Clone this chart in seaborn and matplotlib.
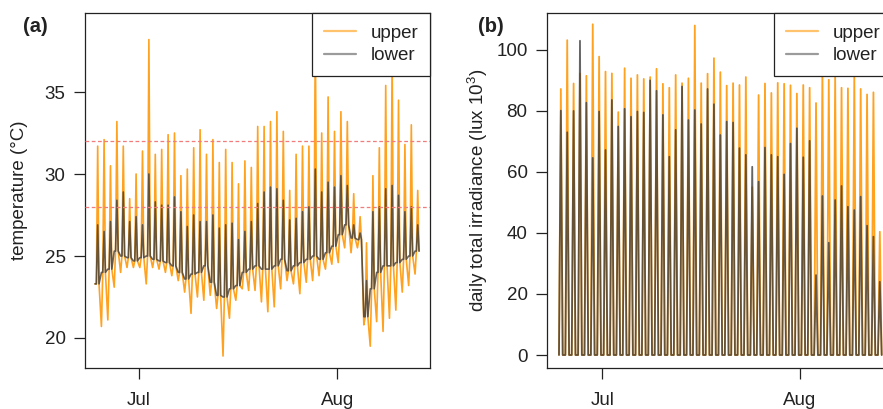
import numpy as np
import pandas as pd
import matplotlib
matplotlib.use("Agg")
import matplotlib.pyplot as plt
from matplotlib.lines import Line2D
import seaborn as sns

# ---- daily readings, 24 Jun - 13 Aug ------------------------------------
days = pd.date_range("2014-06-24", periods=51, freq="D")

# temperature (deg C): night baseline, upper-canopy night dip, daily maxima
night_base = [23.3, 24.0, 24.2, 25.3, 25.0, 24.9, 24.7, 24.9, 25.0, 24.8,
              24.7, 24.6, 24.4, 24.0, 23.6, 23.9, 24.0, 24.4, 23.4, 22.6,
              22.5, 23.0, 23.2, 24.0, 24.2, 24.4, 24.2, 24.2, 24.4, 24.8,
              24.1, 24.4, 24.6, 24.8, 25.0, 24.8, 25.2, 25.6, 26.3, 26.9,
              26.1, 26.0, 21.3, 23.0, 24.0, 24.4, 24.4, 24.6, 24.8, 25.0,
              25.3]
upper_dip = [23.3, 20.7, 21.1, 23.1, 24.0, 24.3, 24.3, 24.3, 23.3, 24.3,
             24.2, 24.0, 23.8, 23.5, 22.8, 21.5, 22.5, 22.3, 22.6, 21.8,
             18.9, 21.2, 22.3, 23.0, 22.9, 22.9, 22.2, 21.6, 21.9, 23.0,
             23.5, 23.3, 22.7, 23.4, 23.5, 23.8, 24.2, 24.5, 24.6, 25.5,
             25.2, 25.5, 20.8, 19.5, 21.0, 20.4, 21.2, 21.7, 22.8, 23.2,
             23.9]
upper_temp_max = [31.7, 32.1, 30.5, 33.2, 31.7, 28.5, 30.0, 31.4, 38.2, 31.2,
                  31.5, 32.4, 32.5, 29.9, 30.3, 31.6, 32.7, 31.2, 32.1, 30.7,
                  31.5, 30.7, 29.4, 30.8, 30.4, 32.9, 32.9, 33.2, 33.8, 32.6,
                  29.0, 31.2, 31.7, 31.7, 38.6, 32.5, 34.7, 32.6, 33.8, 33.2,
                  28.8, 27.4, 25.8, 29.9, 31.6, 35.4, 37.0, 34.5, 31.8, 33.0,
                  29.0]
lower_temp_max = [26.9, 26.5, 27.1, 28.4, 28.9, 27.1, 27.4, 26.9, 30.0, 28.3,
                  28.1, 28.1, 28.6, 27.7, 26.8, 27.5, 27.1, 27.1, 27.5, 26.7,
                  26.9, 27.0, 26.0, 26.5, 27.1, 28.2, 28.9, 29.2, 29.1, 28.4,
                  27.2, 27.3, 27.7, 28.0, 30.3, 28.9, 29.5, 29.2, 29.9, 29.3,
                  26.9, 26.4, 23.5, 27.7, 28.0, 29.1, 29.3, 28.7, 27.7, 28.0,
                  26.9]

# irradiance (lux 10^3): daily midday maxima, zero at night
upper_irr_max = [87.2, 103.2, 89.0, 92.3, 91.5, 108.4, 97.8, 92.9, 92.3, 79.6,
                 94.0, 90.7, 91.8, 90.5, 91.1, 93.8, 88.9, 87.6, 91.8, 89.1,
                 90.7, 108.0, 89.1, 92.2, 97.3, 92.7, 88.3, 89.1, 88.5, 91.1,
                 55.0, 85.2, 89.0, 85.9, 89.2, 88.9, 88.4, 85.7, 88.5, 87.6,
                 82.6, 93.4, 90.2, 91.3, 87.6, 87.4, 91.0, 87.2, 85.4, 86.1,
                 40.4]
lower_irr_max = [80.1, 73.0, 80.0, 103.0, 82.7, 64.6, 79.8, 67.2, 83.6, 74.9,
                 80.7, 78.1, 79.8, 79.5, 90.0, 86.6, 78.7, 65.0, 73.8, 88.0,
                 77.0, 80.3, 75.7, 87.2, 82.2, 72.1, 76.5, 76.2, 67.8, 65.6,
                 61.7, 56.8, 68.0, 65.6, 65.0, 59.2, 69.3, 74.3, 64.8, 70.2,
                 26.2, 52.1, 36.8, 50.8, 55.4, 48.6, 47.5, 51.9, 42.4, 38.8,
                 24.0]

series_names = ["upper", "lower"]
colors = {"upper": "#FF9500", "lower": "#3A3A3A"}
alphas = {"upper": 0.88, "lower": 0.78}

# ---- long tables --------------------------------------------------------
temp_hours = [3, 8, 13, 18]
irr_hours = [5, 12, 19]
temp_rows, irr_rows = [], []
for i, d in enumerate(days):
    up_vals = [upper_dip[i], night_base[i], upper_temp_max[i], night_base[i]]
    lo_vals = [night_base[i], night_base[i], lower_temp_max[i], night_base[i]]
    for h, vu, vl in zip(temp_hours, up_vals, lo_vals):
        t = d + pd.Timedelta(hours=h)
        temp_rows.append((t, "upper", vu))
        temp_rows.append((t, "lower", vl))
    for h, vu, vl in zip(irr_hours, [0, upper_irr_max[i], 0],
                         [0, lower_irr_max[i], 0]):
        t = d + pd.Timedelta(hours=h)
        irr_rows.append((t, "upper", vu))
        irr_rows.append((t, "lower", vl))
temp_df = pd.DataFrame(temp_rows, columns=["time", "sensor", "value"])
irr_df = pd.DataFrame(irr_rows, columns=["time", "sensor", "value"])

# ---- style --------------------------------------------------------------
sns.set_style("ticks")
plt.rcParams["font.family"] = ["Liberation Sans", "DejaVu Sans"]
plt.rcParams["mathtext.fontset"] = "custom"
plt.rcParams["mathtext.rm"] = "Liberation Sans"
plt.rcParams["mathtext.it"] = "Liberation Sans:italic"
FS = 13.5
INK = "#222222"

W, H = 883, 409
fig = plt.figure(figsize=(W / 100, H / 100), dpi=100)
ax_a = fig.add_axes([85 / W, 41 / H, 345 / W, 355 / H])
ax_b = fig.add_axes([547 / W, 41 / H, 345 / W, 355 / H])

jul1 = pd.Timestamp("2014-07-01")
aug1 = pd.Timestamp("2014-08-01")


def draw(ax, df, lw):
    for name in series_names:
        sub = df[df["sensor"] == name]
        sns.lineplot(data=sub, x="time", y="value", ax=ax, estimator=None,
                     color=colors[name], alpha=alphas[name], lw=lw,
                     sort=True, legend=False)


def finish(ax, ylim, yticks, ylabel, left_days, span_days):
    start = jul1 - pd.Timedelta(days=left_days)
    ax.set_xlim(start, start + pd.Timedelta(days=span_days))
    ax.set_ylim(*ylim)
    ax.set_xticks([jul1, aug1])
    ax.set_xticklabels(["Jul", "Aug"])
    ax.set_yticks(yticks)
    ax.set_yticklabels([str(v) for v in yticks])
    ax.tick_params(axis="both", direction="out", length=8, width=0.9,
                   colors=INK, labelsize=FS, labelcolor=INK)
    ax.tick_params(axis="y", pad=6)
    ax.tick_params(axis="x", pad=9.5)
    for s in ax.spines.values():
        s.set_visible(True)
        s.set_color(INK)
        s.set_linewidth(0.9)
    ax.set_xlabel("")
    ax.set_ylabel(ylabel, fontsize=FS, color=INK)
    ax.yaxis.set_label_coords(-0.165, 0.5)
    handles = [Line2D([], [], color=colors[n], alpha=alphas[n] * 0.65, lw=1.6)
               for n in series_names]
    leg = ax.legend(handles, series_names, loc="upper right",
                    bbox_to_anchor=(1.0, 1.0), borderaxespad=0,
                    fancybox=False, framealpha=1, edgecolor=INK,
                    fontsize=FS, handlelength=1.7, handletextpad=0.8,
                    borderpad=0.62, labelspacing=0.28)
    leg.get_frame().set_linewidth(0.9)
    for t in leg.get_texts():
        t.set_color(INK)


draw(ax_a, temp_df, 1.2)
ax_a.axhline(28, color="#F27C7C", lw=0.9, ls=(0, (3, 2)), zorder=3)
ax_a.axhline(32, color="#F27C7C", lw=0.9, ls=(0, (3, 2)), zorder=3)
finish(ax_a, (18.17, 39.82), [20, 25, 30, 35], "temperature (°C)", 8.44, 53.9)

draw(ax_b, irr_df, 1.3)
finish(ax_b, (-4.26, 112.1), [0, 20, 40, 60, 80, 100],
       r"daily total irradiance (lux 10$^{3}$)", 8.67, 54.08)

fig.text(23 / W, 1 - 27 / H, "(a)", fontsize=14.5, fontweight="bold",
         ha="left", va="center", color=INK)
fig.text(478 / W, 1 - 27 / H, "(b)", fontsize=14.5, fontweight="bold",
         ha="left", va="center", color=INK)

fig.savefig("out.png", dpi=100)
